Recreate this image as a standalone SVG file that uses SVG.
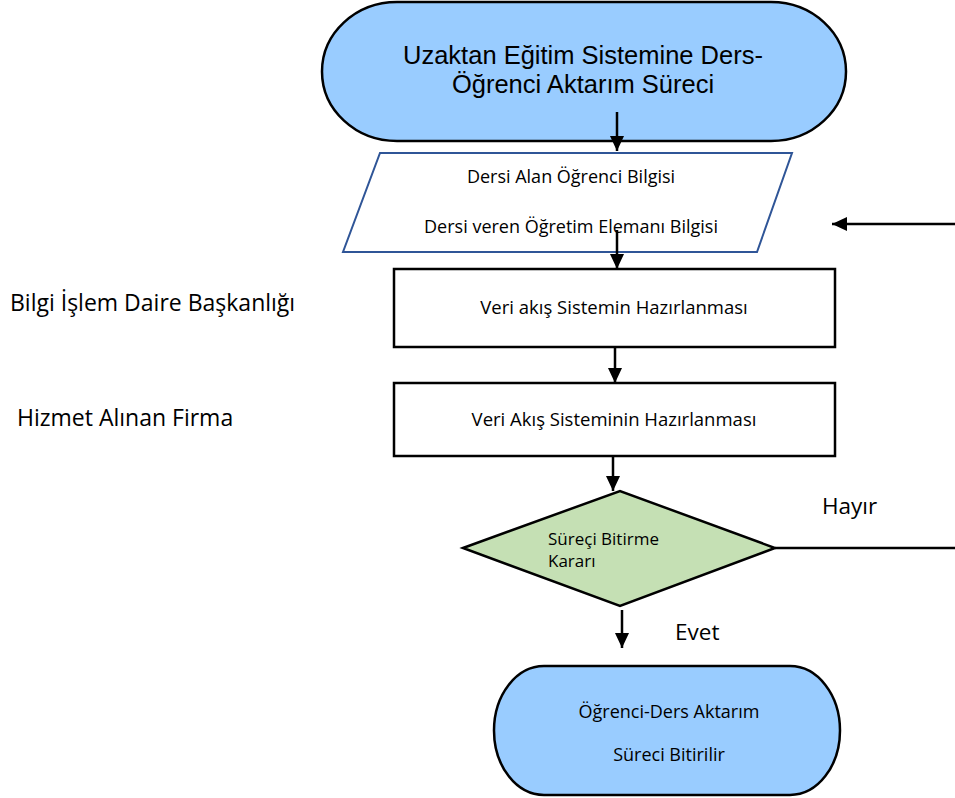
<svg xmlns="http://www.w3.org/2000/svg" width="955" height="798" viewBox="0 0 955 798">
<style>
.term{fill:#99CCFF;stroke:#000;stroke-width:2.5}
.box{fill:#fff;stroke:#000;stroke-width:2.5}
.io{fill:#fff;stroke:#2F5597;stroke-width:2}
.dec{fill:#C5E0B4;stroke:#000;stroke-width:2.5}
.t{font-family:"Open Sans","Noto Sans",sans-serif;fill:#000}
.ta{font-family:"Liberation Sans",Arial,sans-serif;fill:#000}
.c{stroke:#000;stroke-width:2.5;fill:none}
</style>
<defs>
<marker id="ah" markerUnits="userSpaceOnUse" markerWidth="16" markerHeight="16" viewBox="0 0 16 16" refX="15" refY="8" orient="auto">
<path d="M0,1 L15,8 L0,15 Z" fill="#000"/>
</marker>
</defs>
<g id="start">
<rect class="term" x="322" y="2" width="524" height="139" rx="75" ry="69.5"/>
<text class="ta" font-size="25.5" text-anchor="middle" x="583" y="64">Uzaktan Eğitim Sistemine Ders-</text>
<text class="ta" font-size="25.5" text-anchor="middle" x="583" y="93">Öğrenci Aktarım Süreci</text>
</g>
<g id="input">
<polygon class="io" points="380,153 792,153 757,252 343,252"/>
<text class="t" font-size="18" text-anchor="middle" x="571" y="183">Dersi Alan Öğrenci Bilgisi</text>
<text class="t" font-size="18" text-anchor="middle" x="571" y="233">Dersi veren Öğretim Elemanı Bilgisi</text>
</g>
<g id="step1">
<rect class="box" x="394" y="269" width="441" height="78"/>
<text class="t" font-size="18.5" text-anchor="middle" x="614" y="314">Veri akış Sistemin Hazırlanması</text>
</g>
<g id="step2">
<rect class="box" x="394" y="383" width="441" height="73"/>
<text class="t" font-size="18.5" text-anchor="middle" x="614" y="426">Veri Akış Sisteminin Hazırlanması</text>
</g>
<g id="decision">
<polygon class="dec" points="463,548 620,491 775,548 620,606"/>
<text class="t" font-size="17" x="548" y="545">Süreçi Bitirme</text>
<text class="t" font-size="17" x="548" y="567">Kararı</text>
</g>
<g id="end">
<rect class="term" x="494" y="666" width="346" height="129" rx="50" ry="64.5"/>
<text class="t" font-size="18" text-anchor="middle" x="669" y="718">Öğrenci-Ders Aktarım</text>
<text class="t" font-size="18" text-anchor="middle" x="669" y="761">Süreci Bitirilir</text>
</g>
<g id="labels">
<text class="t" font-size="23" x="10" y="311">Bilgi İşlem Daire Başkanlığı</text>
<text class="t" font-size="23" x="17" y="426">Hizmet Alınan Firma</text>
<text class="t" font-size="22.5" x="822" y="514">Hayır</text>
<text class="t" font-size="22.5" x="675" y="640">Evet</text>
</g>
<g id="connectors">
<line class="c" x1="617" y1="112" x2="617" y2="151" marker-end="url(#ah)"/>
<line class="c" x1="617" y1="230" x2="617" y2="269" marker-end="url(#ah)"/>
<line class="c" x1="615" y1="347" x2="615" y2="383" marker-end="url(#ah)"/>
<line class="c" x1="613" y1="456" x2="613" y2="491" marker-end="url(#ah)"/>
<line class="c" x1="622" y1="610" x2="622" y2="648" marker-end="url(#ah)"/>
<line class="c" x1="775" y1="548" x2="955" y2="548"/>
<line class="c" x1="955" y1="224" x2="832" y2="224" marker-end="url(#ah)"/>
</g>
</svg>
